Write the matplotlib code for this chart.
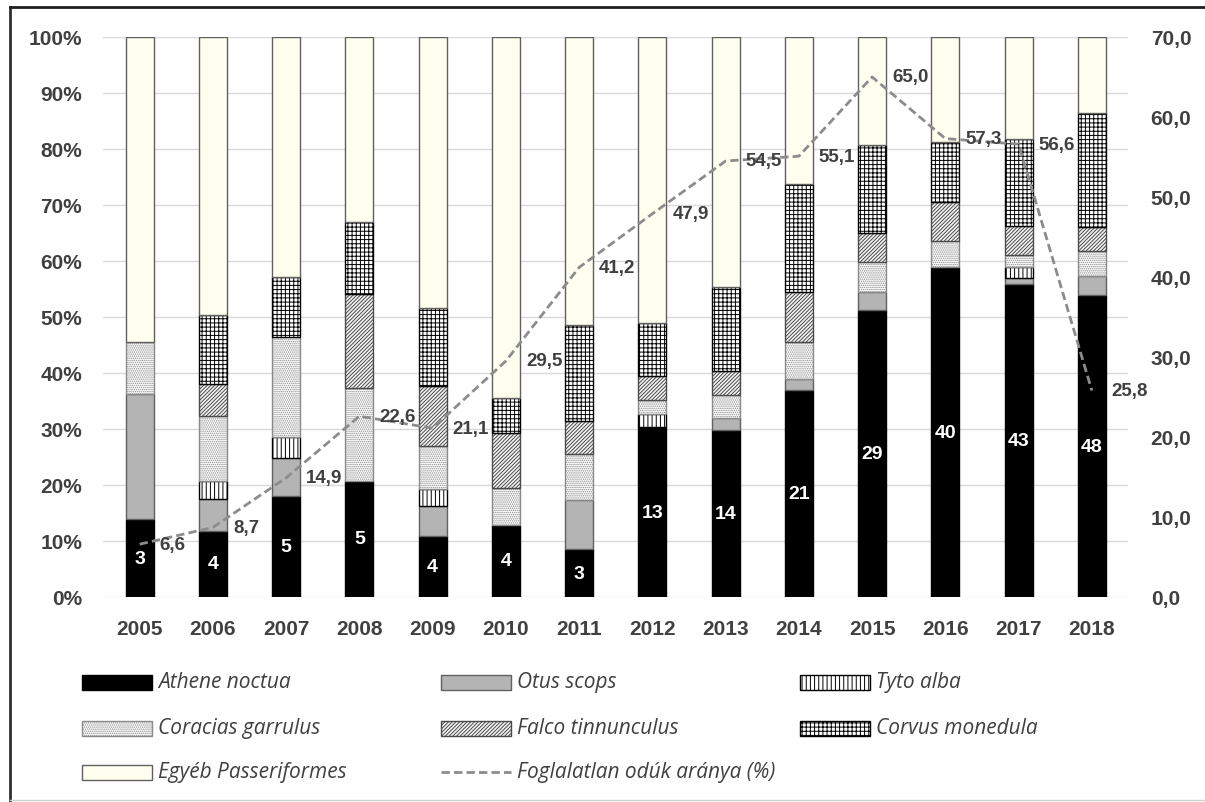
import numpy as np
import matplotlib
matplotlib.use("Agg")
import matplotlib.pyplot as plt
from matplotlib.patches import Rectangle
from matplotlib.lines import Line2D

years = ["2005", "2006", "2007", "2008", "2009", "2010", "2011",
         "2012", "2013", "2014", "2015", "2016", "2017", "2018"]

# share of nest boxes by species (%)
athene = [13.9, 11.8, 18.0, 20.8, 10.9, 12.9, 8.5, 30.3, 29.8, 36.9, 51.2, 58.9, 55.9, 53.9]
otus = [22.3, 5.7, 6.8, 0.0, 5.3, 0.0, 8.8, 0.0, 2.2, 2.0, 3.3, 0.0, 1.0, 3.5]
tyto = [0.0, 3.3, 3.8, 0.0, 3.1, 0.0, 0.0, 2.4, 0.0, 0.0, 0.0, 0.0, 2.0, 0.0]
coracias = [9.3, 11.5, 17.9, 16.6, 7.6, 6.6, 8.2, 2.5, 4.1, 6.6, 5.4, 4.6, 2.2, 4.3]
falco = [0.0, 5.7, 0.0, 16.7, 10.7, 9.7, 5.9, 4.2, 4.3, 9.0, 5.1, 7.1, 5.2, 4.4]
corvus = [0.0, 12.3, 10.7, 12.9, 14.0, 6.4, 17.2, 9.6, 15.0, 19.2, 15.7, 10.7, 15.5, 20.3]
egyeb = [54.5, 49.7, 42.8, 33.0, 48.4, 64.4, 51.4, 51.0, 44.6, 26.3, 19.3, 18.7, 18.2, 13.6]

athene_n = [3, 4, 5, 5, 4, 4, 3, 13, 14, 21, 29, 40, 43, 48]
foglalatlan = [6.6, 8.7, 14.9, 22.6, 21.1, 29.5, 41.2, 47.9, 54.5, 55.1, 65.0, 57.3, 56.6, 25.8]

plt.rcParams["hatch.linewidth"] = 0.7
txt = "#404040"
tick_font = dict(family="Liberation Sans", weight="bold", size=15, color=txt)

series = [
    (athene, "Athene noctua", "#000000", None, "#000000"),
    (otus, "Otus scops", "#b4b4b4", None, "#606060"),
    (tyto, "Tyto alba", "#ffffff", "||||", "#000000"),
    (coracias, "Coracias garrulus", "#ffffff", "........", "#8a8a8a"),
    (falco, "Falco tinnunculus", "#f4f4f4", "/////////", "#4a4a4a"),
    (corvus, "Corvus monedula", "#ffffff", "++++", "#000000"),
    (egyeb, "Egyéb Passeriformes", "#fffff0", None, "#606060"),
]

fig = plt.figure(figsize=(12.05, 8.03), dpi=100)
ax = fig.add_axes([0.0855, 0.2553, 0.851, 0.6974])
x = np.arange(len(years))

bottom = np.zeros(len(years))
for vals, name, fc, hatch, ec in series:
    v = np.array(vals)
    mask = v > 0
    ax.bar(x[mask], v[mask], 0.38, bottom=bottom[mask], color=fc, hatch=hatch,
           edgecolor=ec, linewidth=1.0, zorder=3)
    bottom += v

for xi, v, n in zip(x, athene, athene_n):
    ax.text(xi, v / 2, str(n), ha="center", va="center", color="white",
            family="Liberation Sans", weight="bold", fontsize=14, zorder=5)

ax.set_xlim(-0.5, len(years) - 0.5)
ax.set_ylim(0, 100)
ax.set_yticks(np.arange(0, 101, 10))
ax.set_yticklabels([f"{t}%" for t in range(0, 101, 10)])
ax.set_xticks(x)
ax.set_xticklabels(years)
ax.grid(axis="y", color="#d9d9d9", linewidth=1.0, zorder=0)
ax.set_axisbelow(True)
for s in ax.spines.values():
    s.set_visible(False)
ax.tick_params(axis="y", length=0, pad=15)
ax.tick_params(axis="x", length=0, pad=16)
for lab in ax.get_xticklabels() + ax.get_yticklabels():
    lab.set(**tick_font)

ax2 = ax.twinx()
ax2.set_ylim(0, 70)
ax2.set_yticks(np.arange(0, 71, 10))
ax2.set_yticklabels([f"{t},0" for t in range(0, 71, 10)])
for s in ax2.spines.values():
    s.set_visible(False)
ax2.tick_params(axis="y", length=0, pad=16)
for lab in ax2.get_yticklabels():
    lab.set(**tick_font)
ax2.plot(x, foglalatlan, color="#8c8c8c", linestyle=(0, (3, 1.5)), linewidth=2, zorder=4)
for xi, v in zip(x, foglalatlan):
    ax2.annotate(f"{v:.1f}".replace(".", ","), (xi, v), xytext=(20, 0),
                 textcoords="offset pixels", ha="left", va="center",
                 family="Liberation Sans", weight="bold", fontsize=13.5, color=txt, zorder=6)

# legend, laid out by rows as in the original
W, H = 1205.0, 803.0
col_x = [82, 441, 800]
row_y = [683, 729, 773]
entries = [(s[1], s[2], s[3], s[4]) for s in series] + [("Foglalatlan odúk aránya (%)", None, None, None)]
for i, (name, fc, hatch, ec) in enumerate(entries):
    cx = col_x[i % 3]
    cy = row_y[i // 3]
    if fc is None:
        fig.add_artist(Line2D([cx / W, (cx + 70) / W], [1 - cy / H, 1 - cy / H],
                              color="#8c8c8c", linestyle=(0, (3, 1.5)), linewidth=2))
    else:
        fig.add_artist(Rectangle((cx / W, 1 - (cy + 7.5) / H), 70 / W, 15 / H,
                                 transform=fig.transFigure, facecolor=fc, hatch=hatch,
                                 edgecolor=ec, linewidth=1.0))
    fig.text((cx + 76) / W, 1 - cy / H, name, ha="left", va="center",
             family="Open Sans", style="italic", fontsize=15, color=txt)

# outer frame
fig.add_artist(Line2D([10 / W, 10 / W], [0, 1 - 8 / H], color="#303030", linewidth=2))
fig.add_artist(Line2D([10 / W, 1], [1 - 8 / H, 1 - 8 / H], color="#202020", linewidth=2))
fig.add_artist(Line2D([10 / W, 1], [2 / H, 2 / H], color="#d0d0d0", linewidth=1))

fig.savefig("out.png", dpi=100, facecolor="white")
